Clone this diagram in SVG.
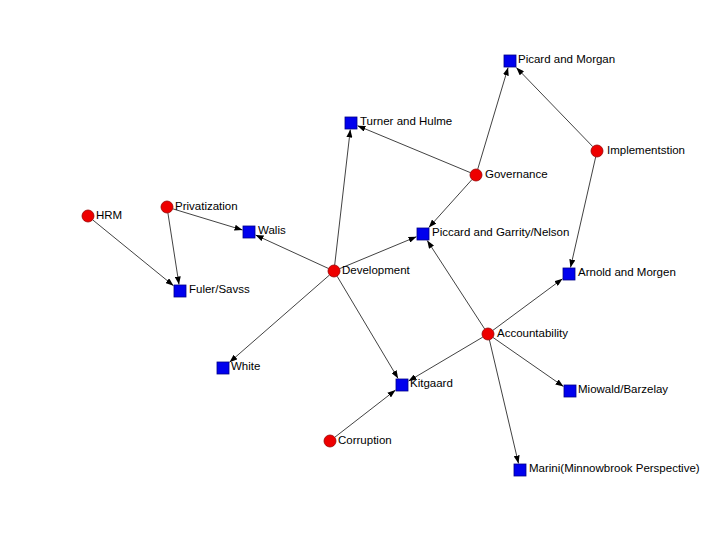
<svg xmlns="http://www.w3.org/2000/svg" width="720" height="540" viewBox="0 0 720 540">
<style>
.e{stroke:#111;stroke-width:0.8;fill:none;marker-end:url(#ah)}
.c{fill:#ee0000;stroke:#990000;stroke-width:0.8}
.s{fill:#0000ee;stroke:#000088;stroke-width:0.8}
text{font-family:"Liberation Sans",Arial,sans-serif;font-size:11.5px;fill:#000}
</style>
<defs>
<marker id="ah" markerWidth="8" markerHeight="6" refX="8" refY="3" orient="auto" markerUnits="userSpaceOnUse">
<path d="M0,0 L8,3 L0,6 z" fill="#000"/>
</marker>
</defs>
<rect width="720" height="540" fill="#fff"/>
<g id="connectors">
<line class="e" x1="92.6" y1="219.8" x2="173.5" y2="285.7"/>
<line class="e" x1="167.9" y1="212.9" x2="179.0" y2="284.5"/>
<line class="e" x1="172.7" y1="208.8" x2="242.5" y2="230.0"/>
<line class="e" x1="328.5" y1="268.5" x2="255.5" y2="235.0"/>
<line class="e" x1="334.7" y1="265.0" x2="350.3" y2="129.5"/>
<line class="e" x1="339.5" y1="268.7" x2="416.5" y2="236.7"/>
<line class="e" x1="329.5" y1="275.0" x2="229.5" y2="362.3"/>
<line class="e" x1="337.1" y1="276.2" x2="398.1" y2="378.5"/>
<line class="e" x1="470.5" y1="172.7" x2="357.5" y2="125.7"/>
<line class="e" x1="477.7" y1="169.3" x2="508.1" y2="67.5"/>
<line class="e" x1="472.0" y1="179.5" x2="428.8" y2="227.5"/>
<line class="e" x1="592.8" y1="146.7" x2="516.3" y2="67.5"/>
<line class="e" x1="595.7" y1="156.9" x2="570.5" y2="267.5"/>
<line class="e" x1="484.7" y1="329.0" x2="427.2" y2="240.5"/>
<line class="e" x1="492.8" y1="330.4" x2="562.5" y2="278.8"/>
<line class="e" x1="482.8" y1="337.1" x2="408.5" y2="381.1"/>
<line class="e" x1="492.9" y1="337.4" x2="563.5" y2="386.5"/>
<line class="e" x1="489.4" y1="339.8" x2="518.5" y2="463.5"/>
<line class="e" x1="334.7" y1="437.3" x2="395.5" y2="390.1"/>
</g>
<g id="hrm"><circle class="c" cx="88" cy="216" r="6"/><text x="96" y="219">HRM</text></g>
<g id="privatization"><circle class="c" cx="167" cy="207" r="6"/><text x="175" y="210">Privatization</text></g>
<g id="development"><circle class="c" cx="334" cy="271" r="6"/><text x="342" y="274">Development</text></g>
<g id="governance"><circle class="c" cx="476" cy="175" r="6"/><text x="485" y="178">Governance</text></g>
<g id="implementation"><circle class="c" cx="597" cy="151" r="6"/><text x="607" y="154">Implementstion</text></g>
<g id="accountability"><circle class="c" cx="488" cy="334" r="6"/><text x="497" y="337">Accountability</text></g>
<g id="corruption"><circle class="c" cx="330" cy="441" r="6"/><text x="338" y="444">Corruption</text></g>
<g id="picard-morgan"><rect class="s" x="504" y="55" width="12" height="12"/><text x="518" y="63">Picard and Morgan</text></g>
<g id="turner-hulme"><rect class="s" x="345" y="117" width="12" height="12"/><text x="360" y="125">Turner and Hulme</text></g>
<g id="walis"><rect class="s" x="243" y="226" width="12" height="12"/><text x="258" y="234">Walis</text></g>
<g id="fuler-savss"><rect class="s" x="174" y="285" width="12" height="12"/><text x="189" y="293">Fuler/Savss</text></g>
<g id="piccard-garrity"><rect class="s" x="417" y="228" width="12" height="12"/><text x="432" y="236">Piccard and Garrity/Nelson</text></g>
<g id="arnold-morgen"><rect class="s" x="563" y="268" width="12" height="12"/><text x="578" y="276">Arnold and Morgen</text></g>
<g id="white"><rect class="s" x="217" y="362" width="12" height="12"/><text x="231" y="370">White</text></g>
<g id="kitgaard"><rect class="s" x="396" y="379" width="12" height="12"/><text x="410" y="387">Kitgaard</text></g>
<g id="miowald-barzelay"><rect class="s" x="564" y="385" width="12" height="12"/><text x="578" y="393">Miowald/Barzelay</text></g>
<g id="marini"><rect class="s" x="514" y="464" width="12" height="12"/><text x="529" y="472">Marini(Minnowbrook Perspective)</text></g>
</svg>
